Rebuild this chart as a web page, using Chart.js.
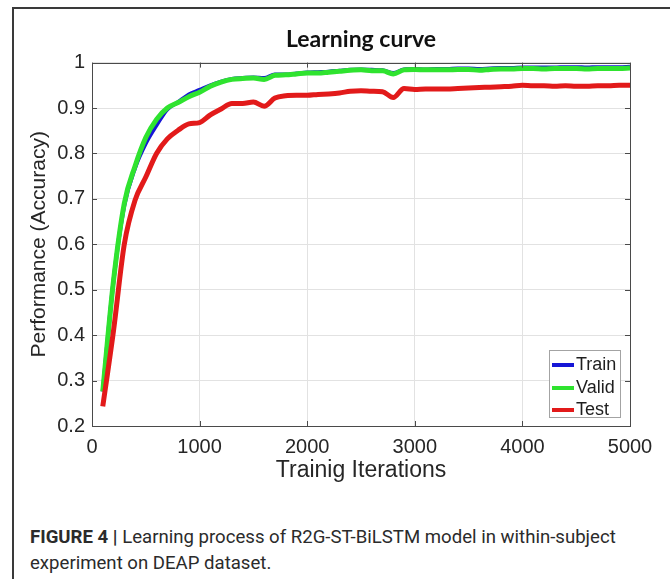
<!DOCTYPE html>
<html>
<head>
<meta charset="utf-8">
<script src="https://cdn.jsdelivr.net/npm/chart.js@4.4.1/dist/chart.umd.min.js"></script>
<style>
  html, body { margin: 0; padding: 0; background: #fff; }
  body { width: 670px; height: 579px; position: relative; overflow: hidden; }
  #frame { position: absolute; left: 12px; top: 7px; width: 700px; height: 620px;
           border-left: 2px solid #3a3a3a; border-top: 2px solid #3a3a3a; }
  #wrap { position: absolute; left: 0; top: 0; width: 670px; height: 500px; }
  #legend { position: absolute; left: 549px; top: 350px; width: 72px; height: 68px;
            border: 1px solid #a3a3a3; background: #fff; box-sizing: border-box;
            padding-top: 2px; font-family: "Liberation Sans", Arial, sans-serif; font-size: 18px; color: #1e1e1e; }
  #legend div { height: 22.5px; line-height: 22.5px; white-space: nowrap; }
  #legend span.ln { display: inline-block; width: 22px; height: 4px; margin: 0 2px 0 2px; vertical-align: middle; }
  #caption { position: absolute; left: 30px; top: 524px; font-family: Roboto, sans-serif;
             font-size: 18.6px; line-height: 26px; color: #2b2b2b; }
  #caption b { font-weight: 700; }
</style>
</head>
<body>
<div id="frame"></div>
<div id="wrap"><canvas id="curve"></canvas></div>
<div id="legend"></div>
<div id="caption"><b>FIGURE 4 |</b> Learning process of R2G-ST-BiLSTM model in within-subject<br>experiment on DEAP dataset.</div>
<script>
/* ---------- data ---------- */
const iterations = [100, 200, 300, 400, 500, 600, 700, 800, 900, 1000,
  1100, 1200, 1300, 1400, 1500, 1600, 1700, 1800, 1900, 2000,
  2100, 2200, 2300, 2400, 2500, 2600, 2700, 2800, 2900, 3000,
  3100, 3200, 3300, 3400, 3500, 3600, 3700, 3800, 3900, 4000,
  4100, 4200, 4300, 4400, 4500, 4600, 4700, 4800, 4900, 5000];

const trainAcc = [0.276, 0.52, 0.685, 0.768, 0.822, 0.862, 0.897, 0.913, 0.93, 0.94,
  0.95, 0.958, 0.964, 0.966, 0.967, 0.966, 0.974, 0.974, 0.976, 0.978,
  0.979, 0.98, 0.982, 0.984, 0.985, 0.984, 0.983, 0.977, 0.985, 0.986,
  0.985, 0.986, 0.986, 0.987, 0.987, 0.986, 0.987, 0.988, 0.988, 0.989,
  0.989, 0.989, 0.989, 0.99, 0.99, 0.989, 0.99, 0.99, 0.99, 0.991];

const validAcc = [0.276, 0.52, 0.69, 0.772, 0.835, 0.875, 0.9, 0.912, 0.925, 0.935,
  0.948, 0.957, 0.963, 0.965, 0.966, 0.963, 0.972, 0.973, 0.975, 0.977,
  0.977, 0.979, 0.981, 0.983, 0.984, 0.982, 0.982, 0.975, 0.984, 0.985,
  0.984, 0.984, 0.984, 0.985, 0.985, 0.983, 0.985, 0.986, 0.986, 0.987,
  0.987, 0.986, 0.987, 0.987, 0.987, 0.986, 0.987, 0.987, 0.987, 0.988];

const testAcc = [0.243, 0.41, 0.6, 0.697, 0.748, 0.8, 0.832, 0.851, 0.865, 0.868,
  0.885, 0.898, 0.91, 0.91, 0.913, 0.904, 0.922, 0.927, 0.928, 0.928,
  0.93, 0.931, 0.933, 0.937, 0.938, 0.937, 0.936, 0.923, 0.943, 0.941,
  0.942, 0.942, 0.942, 0.943, 0.944, 0.945, 0.946, 0.947, 0.948, 0.95,
  0.949, 0.949, 0.948, 0.949, 0.948, 0.948, 0.949, 0.949, 0.95, 0.95];

const seriesNames = ["Train", "Valid", "Test"];
const xTicks = [0, 1000, 2000, 3000, 4000, 5000];

const toPoints = (vals) => vals.map((v, i) => ({ x: iterations[i], y: v }));

/* ---------- matlab style box + inward ticks ---------- */
const boxPlugin = {
  id: "matlabBox",
  afterDatasetsDraw(chart) {
    const { ctx, chartArea: a, scales: { x, y } } = chart;
    ctx.save();
    ctx.strokeStyle = "#4a4a4a";
    ctx.lineWidth = 1;
    ctx.strokeRect(Math.round(a.left) + 0.5, Math.round(a.top) + 0.5,
      Math.round(a.right - a.left), Math.round(a.bottom - a.top));
    ctx.beginPath();
    x.ticks.forEach((t) => {
      const px = Math.round(x.getPixelForValue(t.value)) + 0.5;
      ctx.moveTo(px, a.bottom); ctx.lineTo(px, a.bottom - 5);
      ctx.moveTo(px, a.top); ctx.lineTo(px, a.top + 5);
    });
    y.ticks.forEach((t) => {
      const py = Math.round(y.getPixelForValue(t.value)) + 0.5;
      ctx.moveTo(a.left, py); ctx.lineTo(a.left + 5, py);
      ctx.moveTo(a.right, py); ctx.lineTo(a.right - 5, py);
    });
    ctx.stroke();
    ctx.restore();
  }
};

const tickFont = { family: "'Liberation Sans', Arial, sans-serif", size: 20 };

const chart = new Chart(document.getElementById("curve"), {
  type: "line",
  plugins: [boxPlugin],
  data: {
    datasets: [
      { label: seriesNames[0], data: toPoints(trainAcc), borderColor: "#1616d6", borderWidth: 4, order: 2 },
      { label: seriesNames[1], data: toPoints(validAcc), borderColor: "#2fe32f", borderWidth: 5, order: 1 },
      { label: seriesNames[2], data: toPoints(testAcc), borderColor: "#e21a1a", borderWidth: 5, order: 0 },
    ],
  },
  options: {
    responsive: true,
    maintainAspectRatio: false,
    animation: false,
    layout: { padding: { left: 0, right: 40, top: 0, bottom: 0 } },
    elements: {
      point: { radius: 0 },
      line: { cubicInterpolationMode: "monotone", borderJoinStyle: "round", borderCapStyle: "butt" },
    },
    plugins: {
      legend: { display: false },
      tooltip: { enabled: false },
      title: {
        display: true,
        text: "Learning curve",
        fullSize: false,
        color: "#111",
        font: { family: "Lato, sans-serif", size: 23, weight: "bold" },
        padding: { top: 25.5, bottom: 9.5 },
      },
    },
    scales: {
      x: {
        type: "linear",
        min: 0,
        max: 5000,
        afterBuildTicks: (scale) => { scale.ticks = xTicks.map((v) => ({ value: v })); },
        afterFit: (scale) => { scale.height = 74; },
        border: { display: false },
        grid: { color: "#e2e2e2", drawTicks: false },
        ticks: {
          autoSkip: false,
          maxRotation: 0,
          padding: 9,
          color: "#262626",
          font: tickFont,
          callback: (v) => String(v),
        },
        title: {
          display: true,
          text: "Trainig Iterations",
          color: "#262626",
          font: { family: "'Liberation Sans', Arial, sans-serif", size: 23 },
          padding: { top: 0, bottom: 16 },
        },
      },
      y: {
        min: 0.2,
        max: 1,
        afterFit: (scale) => { scale.width = 92; },
        border: { display: false },
        grid: { color: "#e2e2e2", drawTicks: false },
        ticks: {
          stepSize: 0.1,
          padding: 7,
          color: "#262626",
          font: tickFont,
          callback: (v) => String(+v.toFixed(1)),
        },
        title: {
          display: true,
          text: "Performance (Accuracy)",
          color: "#262626",
          font: { family: "'Liberation Sans', Arial, sans-serif", size: 21 },
          padding: { top: 27, bottom: 0 },
        },
      },
    },
  },
});

/* ---------- legend box inside the axes ---------- */
const legendBox = document.getElementById("legend");
chart.data.datasets.forEach((ds) => {
  const row = document.createElement("div");
  row.innerHTML = `<span class="ln" style="background:${ds.borderColor}"></span>${ds.label}`;
  legendBox.appendChild(row);
});
</script>
</body>
</html>
